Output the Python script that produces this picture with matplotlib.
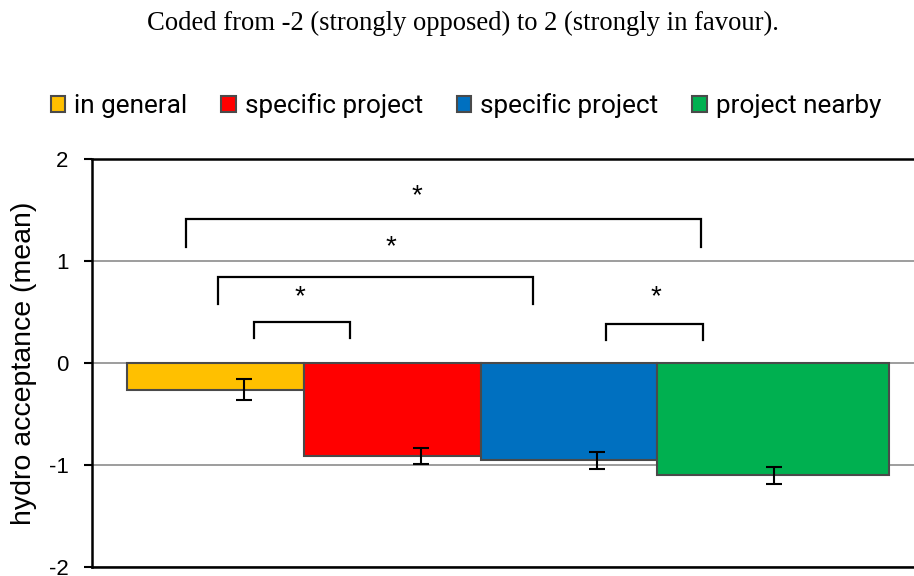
import matplotlib
matplotlib.use("Agg")
import matplotlib.pyplot as plt
from matplotlib.patches import Patch

# Mean hydro acceptance by question framing, coded -2..2
labels = ["in general", "specific project", "specific project", "project nearby"]
means = [-0.26, -0.91, -0.955, -1.10]
errors = [0.105, 0.08, 0.085, 0.085]
colors = ["#FFC000", "#FF0000", "#0070C0", "#00B050"]
bar_widths = [1.0, 1.0, 1.0, 1.31]

# Significance brackets: (left x, right x, top y, leg bottom y, star x, star y)
brackets = [
    (-0.33, 2.585, 1.41, 1.14, 0.977, 1.667),
    (-0.145, 1.637, 0.847, 0.574, 0.83, 1.164),
    (0.057, 0.598, 0.402, 0.249, 0.317, 0.674),
    (2.05, 2.596, 0.382, 0.222, 2.332, 0.671),
]

fig = plt.figure(figsize=(9.14, 5.76), dpi=100)
ax = fig.add_axes([92 / 914, 9 / 576, 822 / 914, 408 / 576])

positions = list(range(len(means)))
lefts = [p - 0.66 for p in positions]
ax.bar(lefts, means, width=bar_widths, align="edge", color=colors,
       edgecolor="#4a4a4a", linewidth=1.5, zorder=2)
ax.errorbar(positions, means, yerr=errors, fmt="none", ecolor="black",
            elinewidth=1.5, capsize=5.5, capthick=1.5, zorder=3)

for x0, x1, ytop, ybot, sx, sy in brackets:
    ax.plot([x0, x0, x1, x1], [ybot, ytop, ytop, ybot], color="black",
            lw=1.6, zorder=3, solid_joinstyle="miter")
    ax.text(sx, sy, "*", ha="center", va="center_baseline", fontsize=20,
            fontfamily="Liberation Sans")

ax.set_xlim(-0.86, 3.792)
ax.set_ylim(-2, 2)
ax.set_yticks([-2, -1, 0, 1, 2])
ax.set_yticklabels(["-2", "-1", "0", "1", "2"])
ax.set_xticks([])
ax.yaxis.grid(True, color="#8c8c8c", linewidth=1.2, zorder=0)
ax.set_axisbelow(True)
ax.tick_params(axis="y", length=6, width=1.5, pad=11, labelsize=16)
for lbl in ax.get_yticklabels():
    lbl.set_fontfamily("Liberation Sans")

for side in ("left", "top", "bottom"):
    ax.spines[side].set_linewidth(1.8)
    ax.spines[side].set_color("black")
ax.spines["right"].set_visible(False)

ax.set_ylabel("hydro acceptance (mean)", fontsize=20.5,
              fontfamily="Liberation Sans", labelpad=8)

handles = [Patch(facecolor=c, edgecolor="#4a4a4a", linewidth=1.5) for c in colors]
fig.legend(handles, labels, loc="center", bbox_to_anchor=(466 / 914, 1 - 106 / 576),
           ncol=4, frameon=False, handlelength=0.55, handleheight=0.55,
           handletextpad=0.35, columnspacing=1.3, borderpad=0,
           prop={"family": "Roboto", "size": 18.8})

fig.text(463 / 914, 1 - 23 / 576,
         "Coded from -2 (strongly opposed) to 2 (strongly in favour).",
         ha="center", va="center", fontsize=19.2, fontfamily="Liberation Serif")

fig.savefig("out.png", dpi=100)
